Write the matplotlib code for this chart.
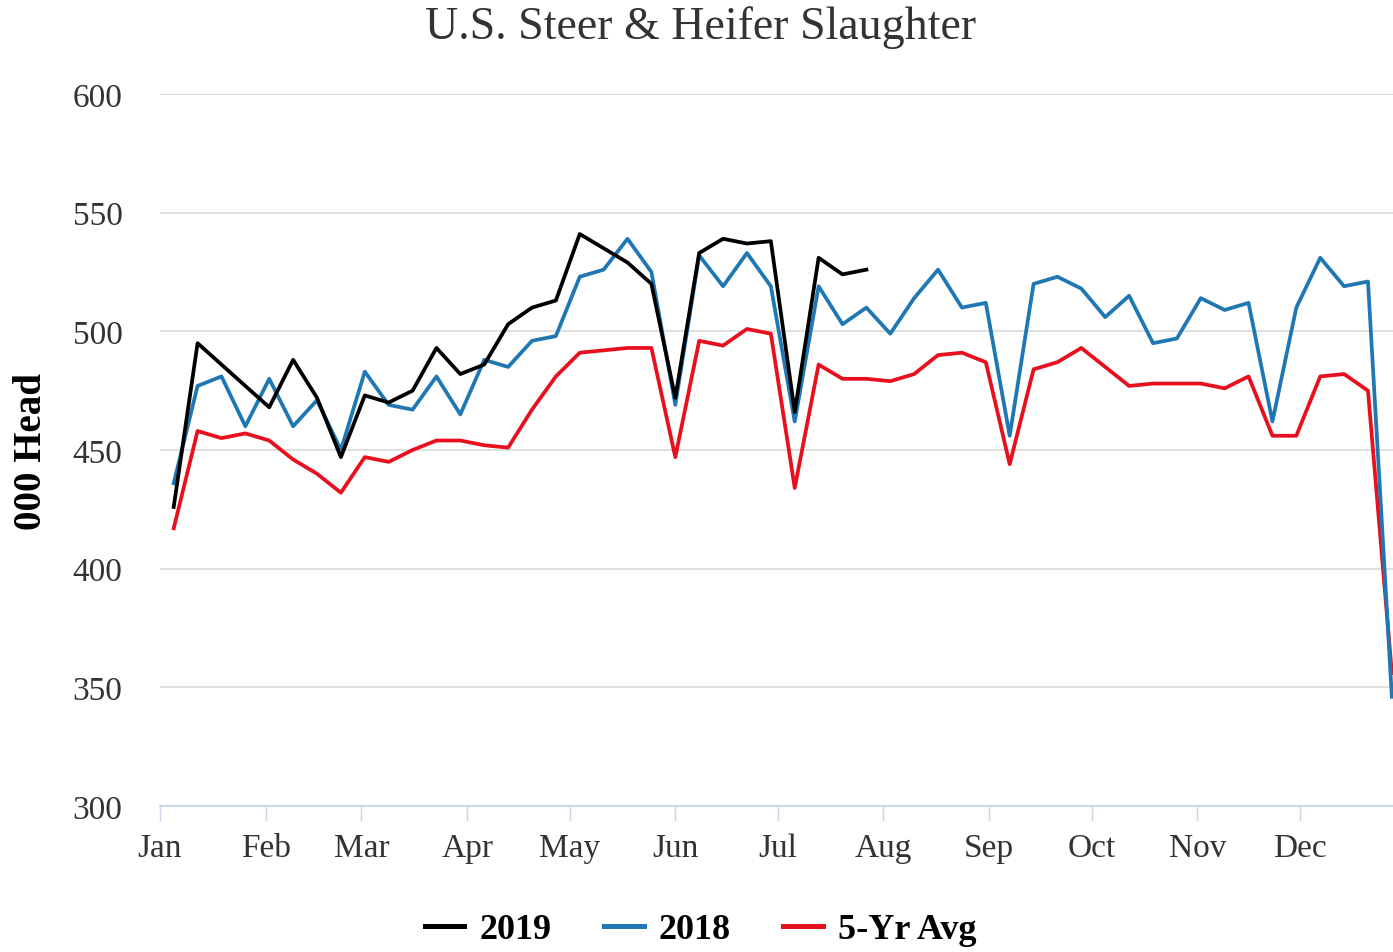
import matplotlib
matplotlib.use('Agg')
import datetime as dt
import pandas as pd
import matplotlib.pyplot as plt
import matplotlib.dates as mdates

# Weekly steer & heifer slaughter, thousand head (week ending Saturdays)
weeks = pd.date_range('2019-01-05', periods=52, freq='7D')

slaughter_2019 = [426, 495, 486, 477, 468, 488, 472, 447, 473, 470,
                  475, 493, 482, 486, 503, 510, 513, 541, 535, 529,
                  520, 472, 533, 539, 537, 538, 466, 531, 524, 526]

slaughter_2018 = [436, 477, 481, 460, 480, 460, 471, 450, 483, 469,
                  467, 481, 465, 488, 485, 496, 498, 523, 526, 539,
                  525, 469, 532, 519, 533, 519, 462, 519, 503, 510,
                  499, 514, 526, 510, 512, 456, 520, 523, 518, 506,
                  515, 495, 497, 514, 509, 512, 462, 510, 531, 519,
                  521, 346]

avg_5yr = [417, 458, 455, 457, 454, 446, 440, 432, 447, 445,
           450, 454, 454, 452, 451, 467, 481, 491, 492, 493,
           493, 447, 496, 494, 501, 499, 434, 486, 480, 480,
           479, 482, 490, 491, 487, 444, 484, 487, 493, 485,
           477, 478, 478, 478, 476, 481, 456, 456, 481, 482,
           475, 356]

plt.rcParams['font.family'] = ['Liberation Serif', 'DejaVu Serif']

fig = plt.figure(figsize=(13.93, 9.53), dpi=100)
ax = fig.add_axes([0.1149, 0.1532, 0.8851, 0.7471])

ax.plot(weeks[:len(slaughter_2019)], slaughter_2019, color='black', lw=2.7, label='2019', zorder=4)
ax.plot(weeks, slaughter_2018, color='#1f77b4', lw=2.7, label='2018', zorder=3)
ax.plot(weeks, avg_5yr, color='#e8101e', lw=2.7, label='5-Yr Avg', zorder=2)

ax.set_ylim(300, 600)
ax.set_yticks([300, 350, 400, 450, 500, 550, 600])
ax.set_xlim(dt.datetime(2019, 1, 1), dt.datetime(2019, 12, 28, 8))
ax.xaxis.set_major_locator(mdates.MonthLocator())
ax.xaxis.set_major_formatter(mdates.DateFormatter('%b'))

ax.grid(axis='y', color='#dcdcdc', lw=1.3)
ax.set_axisbelow(True)
for side in ['top', 'right', 'left']:
    ax.spines[side].set_visible(False)
ax.spines['bottom'].set_color('#ccd6eb')
ax.spines['bottom'].set_linewidth(1.5)

ax.tick_params(axis='y', length=0, pad=27, labelsize=24, labelcolor='#333333')
ax.tick_params(axis='x', length=11, width=1, color='#ccd6eb', pad=8,
               labelsize=24, labelcolor='#333333')

ax.set_ylabel('000 Head', fontsize=28, fontweight='bold', labelpad=16)
fig.suptitle('U.S. Steer & Heifer Slaughter', fontsize=33, color='#333333', y=0.993, x=0.503)

leg = fig.legend(loc='lower center', bbox_to_anchor=(0.503, -0.028), ncol=3, frameon=False,
                 handlelength=1.1, columnspacing=1.45, handletextpad=0.42,
                 prop={'weight': 'bold', 'size': 26})
for line in leg.get_lines():
    line.set_linewidth(3.6)

plt.savefig('out.png', dpi=100)
plt.close()
